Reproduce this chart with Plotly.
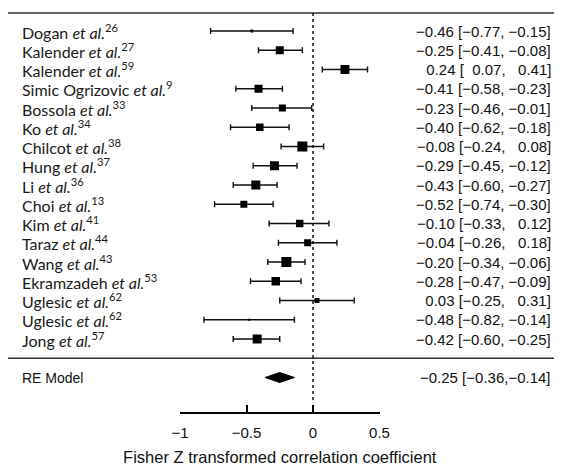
import plotly.graph_objects as go

# ---------------- data ----------------
authors = ["Dogan", "Kalender", "Kalender", "Simic Ogrizovic", "Bossola", "Ko", "Chilcot",
           "Hung", "Li", "Choi", "Kim", "Taraz", "Wang", "Ekramzadeh", "Uglesic", "Uglesic", "Jong"]
refs = ["26", "27", "59", "9", "33", "34", "38", "37", "36", "13", "41", "44", "43", "53", "62", "62", "57"]
estimates = [-0.46, -0.25, 0.24, -0.41, -0.23, -0.40, -0.08, -0.29, -0.43, -0.52, -0.10, -0.04, -0.20, -0.28, 0.03, -0.48, -0.42]
ci_lower = [-0.77, -0.41, 0.07, -0.58, -0.46, -0.62, -0.24, -0.45, -0.60, -0.74, -0.33, -0.26, -0.34, -0.47, -0.25, -0.82, -0.60]
ci_upper = [-0.15, -0.08, 0.41, -0.23, -0.01, -0.18, 0.08, -0.12, -0.27, -0.30, 0.12, 0.18, -0.06, -0.09, 0.31, -0.14, -0.25]
re_label = "RE Model"
re_est, re_lo, re_hi = -0.25, -0.36, -0.14
tick_values = [-1, -0.5, 0, 0.5]
x_title = "Fisher Z transformed correlation coefficient"

# ---------------- styling (not data) ----------------
marker_px = [3, 8, 9, 8, 7, 7.5, 10, 9, 9, 7, 7.5, 7, 10, 8.5, 5, 2, 9]

OFF = 8                      # page body margin in the browser
W, H = 562 - OFF, 466 - OFF  # figure size
ZERO_PX, UNIT_PX = 313, 133.0   # screen coordinates
ROW0_PX, ROW_STEP = 31, 19.25
AXIS_PX = 412

k = len(estimates)
rows = [k - i for i in range(k)]          # 17 .. 1
re_row = -1

def px_to_row(p):
    return k - (p - ROW0_PX) / ROW_STEP

def px_to_paper_x(p):
    return (p - OFF) / W

y_top = px_to_row(OFF)
y_bot = px_to_row(AXIS_PX)

def fmt(v, pad=True):
    s = f"{abs(v):.2f}"
    if v < 0:
        return "\u2212" + s
    return ("\u2007" + s) if pad else s

fig = go.Figure()

# study squares with CIs
fig.add_trace(go.Scatter(
    x=estimates, y=rows, mode="markers",
    marker=dict(symbol="square", size=marker_px, color="black", opacity=1, line=dict(width=0)),
    error_x=dict(type="data", symmetric=False,
                 array=[u - e for u, e in zip(ci_upper, estimates)],
                 arrayminus=[e - l for e, l in zip(estimates, ci_lower)],
                 color="#111111", thickness=1.4, width=3),
    hoverinfo="skip", showlegend=False, cliponaxis=False))

# RE diamond
dh = 0.26
fig.add_trace(go.Scatter(
    x=[re_lo, re_est, re_hi, re_est, re_lo],
    y=[re_row, re_row + dh, re_row, re_row - dh, re_row],
    mode="lines", fill="toself", fillcolor="black",
    line=dict(color="black", width=1), hoverinfo="skip", showlegend=False))

shapes = []
# top and separator lines
for yv in [px_to_row(13), 0]:
    shapes.append(dict(type="line", xref="paper", yref="y", x0=0, x1=1, y0=yv, y1=yv,
                       line=dict(color="#333333", width=1.6)))
# dotted zero line
shapes.append(dict(type="line", xref="x", yref="y", x0=0, x1=0,
                   y0=px_to_row(13), y1=px_to_row(402),
                   line=dict(color="#111111", width=1.5, dash="dot")))

annotations = []
lab_font = dict(family="Lato", size=16, color="#1a1a1a")
num_font = dict(family="Liberation Sans, Arial", size=15, color="#111111")
re_font = dict(family="Liberation Sans, Arial", size=14, color="#111111")
for i in range(k):
    annotations.append(dict(
        xref="paper", yref="y", x=px_to_paper_x(20), y=rows[i], xanchor="left", yanchor="middle",
        text=f"{authors[i]} <i>et al.</i><sup>{refs[i]}</sup>", showarrow=False, font=lab_font))
    annotations.append(dict(
        xref="paper", yref="y", x=px_to_paper_x(553), y=rows[i], xanchor="right", yanchor="middle",
        text=f"{fmt(estimates[i])} [{fmt(ci_lower[i])}, {fmt(ci_upper[i])}]",
        showarrow=False, font=num_font))
annotations.append(dict(xref="paper", yref="y", x=px_to_paper_x(20), y=re_row, xanchor="left",
                        yanchor="middle", text=re_label, showarrow=False, font=re_font))
annotations.append(dict(xref="paper", yref="y", x=px_to_paper_x(553), y=re_row, xanchor="right",
                        yanchor="middle", text=f"{fmt(re_est)} [{fmt(re_lo)},{fmt(re_hi)}]",
                        showarrow=False, font=num_font))

x_lo_px = ZERO_PX + tick_values[0] * UNIT_PX
x_hi_px = ZERO_PX + tick_values[-1] * UNIT_PX

fig.update_layout(
    width=W, height=H, margin=dict(l=0, r=0, t=0, b=0),
    paper_bgcolor="white", plot_bgcolor="white",
    shapes=shapes, annotations=annotations,
    xaxis=dict(domain=[px_to_paper_x(x_lo_px), px_to_paper_x(x_hi_px)],
               range=[tick_values[0], tick_values[-1]],
               tickvals=tick_values, ticks="inside", ticklen=7, tickwidth=1.5, tickcolor="black",
               showline=True, linecolor="black", linewidth=1.5, showgrid=False, zeroline=False,
               tickfont=dict(family="Liberation Sans, Arial", size=15, color="#111111"),
               ticklabelstandoff=6,
               title=dict(text=x_title, standoff=14,
                          font=dict(family="Liberation Sans, Arial", size=16.5, color="#111111")),
               automargin=False),
    yaxis=dict(domain=[1 - (AXIS_PX - OFF) / H, 1], range=[y_bot, y_top], visible=False,
               showgrid=False, zeroline=False, automargin=False),
)

fig.write_html("out.html")
